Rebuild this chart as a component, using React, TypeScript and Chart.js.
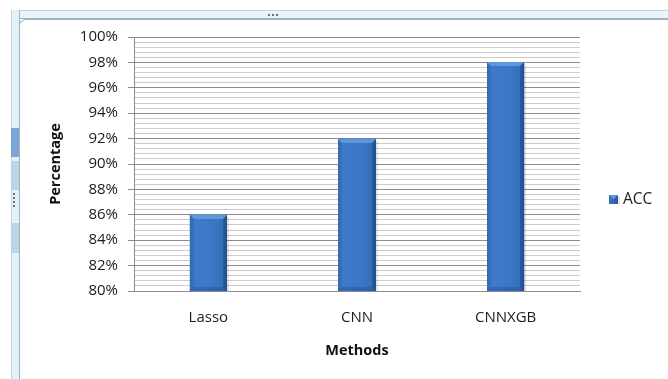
import React, { useEffect, useRef } from "react";
import { Chart, registerables } from "chart.js";

Chart.register(...registerables);

// ---- data ----
const categories = ["Lasso", "CNN", "CNNXGB"];
const accValues = [86, 92, 98];
const seriesName = "ACC";
const yMin = 80;
const yMax = 100;
const yMajorStep = 2;
const yMinorStep = 0.4;
const xTitle = "Methods";
const yTitle = "Percentage";

const FONT = "'Open Sans', 'Noto Sans', sans-serif";
const TEXT = "#1c1c1c";
const MAJOR = "#8c8c8c";
const MINOR = "#cbcbcb";

function isMajor(v: number) {
  const q = (v - yMin) / yMajorStep;
  return Math.abs(q - Math.round(q)) < 1e-6;
}

function drawBevel(ctx: CanvasRenderingContext2D, l: number, t: number, w: number, h: number) {
  ctx.save();
  // soft shadow on the right
  ctx.fillStyle = "rgba(0,0,0,0.10)";
  ctx.fillRect(l + w, t + 2, 2, h - 2);
  const g = ctx.createLinearGradient(l, 0, l + w, 0);
  g.addColorStop(0, "#3a70b8");
  g.addColorStop(0.15, "#3d7aca");
  g.addColorStop(0.6, "#3b77c6");
  g.addColorStop(0.88, "#3570b9");
  g.addColorStop(1, "#2a5c9e");
  ctx.fillStyle = g;
  ctx.fillRect(l, t, w, h);
  const bv = Math.min(4, h / 2, w / 2);
  // top bevel
  ctx.beginPath();
  ctx.moveTo(l, t);
  ctx.lineTo(l + w, t);
  ctx.lineTo(l + w - bv, t + bv);
  ctx.lineTo(l + bv, t + bv);
  ctx.closePath();
  ctx.fillStyle = "#5e97dc";
  ctx.fill();
  // left bevel
  ctx.beginPath();
  ctx.moveTo(l, t);
  ctx.lineTo(l + bv, t + bv);
  ctx.lineTo(l + bv, t + h - bv);
  ctx.lineTo(l, t + h);
  ctx.closePath();
  ctx.fillStyle = "rgba(40,90,160,0.25)";
  ctx.fill();
  // right bevel
  ctx.beginPath();
  ctx.moveTo(l + w, t);
  ctx.lineTo(l + w - bv, t + bv);
  ctx.lineTo(l + w - bv, t + h - bv);
  ctx.lineTo(l + w, t + h);
  ctx.closePath();
  ctx.fillStyle = "rgba(20,60,120,0.38)";
  ctx.fill();
  // bottom bevel
  ctx.beginPath();
  ctx.moveTo(l, t + h);
  ctx.lineTo(l + bv, t + h - bv);
  ctx.lineTo(l + w - bv, t + h - bv);
  ctx.lineTo(l + w, t + h);
  ctx.closePath();
  ctx.fillStyle = "rgba(25,65,125,0.3)";
  ctx.fill();
  ctx.restore();
}

const bevelPlugin = {
  id: "bevelBars",
  afterDatasetsDraw(chart: any) {
    const ctx = chart.ctx;
    const area = chart.chartArea;
    const meta = chart.getDatasetMeta(0);
    meta.data.forEach((bar: any) => {
      const { x, y, base, width } = bar.getProps(["x", "y", "base", "width"], true);
      const l = Math.round(x - width / 2);
      const r = Math.round(x + width / 2);
      const t = Math.round(Math.max(area.top, Math.min(y, base)));
      const b = Math.round(Math.min(area.bottom, Math.max(y, base)));
      drawBevel(ctx, l, t, r - l, b - t);
    });
  },
};

const legendPlugin = {
  id: "sideLegend",
  afterDraw(chart: any) {
    const ctx = chart.ctx;
    const area = chart.chartArea;
    const label = chart.data.datasets[0].label;
    const bx = area.right + 29;
    const cy = (area.top + area.bottom) / 2 + 35;
    drawBevel(ctx, bx, cy - 4, 9, 9);
    ctx.save();
    ctx.fillStyle = TEXT;
    ctx.font = `15.5px ${FONT}`;
    ctx.textBaseline = "middle";
    ctx.textAlign = "left";
    ctx.fillText(label, bx + 14, cy + 1);
    ctx.restore();
  },
};

function ChartCanvas() {
  const ref = useRef<HTMLCanvasElement | null>(null);
  useEffect(() => {
    if (!ref.current) return;
    const chart = new Chart(ref.current, {
      type: "bar",
      data: {
        labels: categories,
        datasets: [
          {
            label: seriesName,
            data: accValues,
            backgroundColor: "#3b76c4",
            borderWidth: 0,
            barPercentage: 0.25,
            categoryPercentage: 1,
          },
        ],
      },
      options: {
        animation: false,
        responsive: false,
        layout: { padding: { left: 43, right: 88, top: 37, bottom: 17 } },
        plugins: {
          legend: { display: false },
          tooltip: { enabled: false },
        },
        scales: {
          x: {
            grid: { display: false, drawTicks: false },
            border: { display: true, color: MAJOR },
            ticks: { color: TEXT, font: { family: FONT, size: 15 }, padding: 18 },
            title: {
              display: true,
              text: xTitle,
              color: "#111",
              font: { family: FONT, size: 14.5, weight: "bold" },
              padding: { top: 4, bottom: 2 },
            },
            afterFit: (scale: any) => {
              scale.height = 71;
            },
          },
          y: {
            min: yMin,
            max: yMax,
            afterBuildTicks: (scale: any) => {
              const n = Math.round((yMax - yMin) / yMinorStep);
              const t = [];
              for (let i = 0; i <= n; i++) {
                t.push({ value: Math.round((yMin + i * yMinorStep) * 1000) / 1000 });
              }
              scale.ticks = t;
            },
            afterFit: (scale: any) => {
              scale.width = 91;
            },
            grid: {
              color: (c: any) => (isMajor(c.tick.value) ? MAJOR : MINOR),
              tickColor: (c: any) => (isMajor(c.tick.value) ? MAJOR : "rgba(0,0,0,0)"),
              tickLength: 6,
              lineWidth: 1,
            },
            border: { display: true, color: MAJOR },
            ticks: {
              autoSkip: false,
              color: TEXT,
              font: { family: FONT, size: 15 },
              padding: 10,
              callback: (v: any) => (isMajor(Number(v)) ? `${Math.round(Number(v))}%` : ""),
            },
            title: {
              display: true,
              text: yTitle,
              color: "#111",
              font: { family: FONT, size: 14.5, weight: "bold" },
              padding: { top: 4, bottom: 4 },
            },
          },
        },
      },
      plugins: [bevelPlugin, legendPlugin],
    });
    return () => chart.destroy();
  }, []);
  return (
    <canvas
      ref={ref}
      width={668}
      height={379}
      style={{ position: "absolute", left: 0, top: 0, width: 668, height: 379 }}
    />
  );
}

export default function App() {
  return (
    <div
      style={{
        position: "fixed",
        left: 0,
        top: 0,
        width: 668,
        height: 379,
        overflow: "hidden",
        background: "#fff",
      }}
    >
      {/* top strip of the embedding frame */}
      <div
        style={{
          position: "absolute",
          left: 11,
          top: 10,
          width: 657,
          height: 9,
          background: "#e4f6fb",
          borderTop: "1px solid #c9d3da",
          borderBottom: "1px solid #a9b3bb",
          boxSizing: "border-box",
        }}
      />
      {/* left strip */}
      <div
        style={{
          position: "absolute",
          left: 11,
          top: 10,
          width: 9,
          height: 369,
          background: "#e0f3f8",
          borderLeft: "1px solid #c9d3da",
          borderRight: "1px solid #a9b3bb",
          boxSizing: "border-box",
        }}
      />
      <div style={{ position: "absolute", left: 11, top: 128, width: 8, height: 29, background: "#7aa6d6" }} />
      <div style={{ position: "absolute", left: 11, top: 161, width: 8, height: 29, background: "#b7d6e6" }} />
      <div style={{ position: "absolute", left: 11, top: 223, width: 8, height: 30, background: "#b7d6e6" }} />
      <div style={{ position: "absolute", left: 13, top: 193, width: 3, height: 14, borderLeft: "2px dotted #707070" }} />
      <div style={{ position: "absolute", left: 268, top: 14, width: 10, height: 2, borderTop: "2px dotted #707070" }} />
      {/* chart area white box with rounded corner */}
      <div
        style={{
          position: "absolute",
          left: 19,
          top: 19,
          width: 660,
          height: 370,
          background: "#fff",
          borderTop: "1px solid #a7b0b8",
          borderLeft: "1px solid #a7b0b8",
          borderTopLeftRadius: 7,
          boxSizing: "border-box",
        }}
      />
      <ChartCanvas />
    </div>
  );
}
